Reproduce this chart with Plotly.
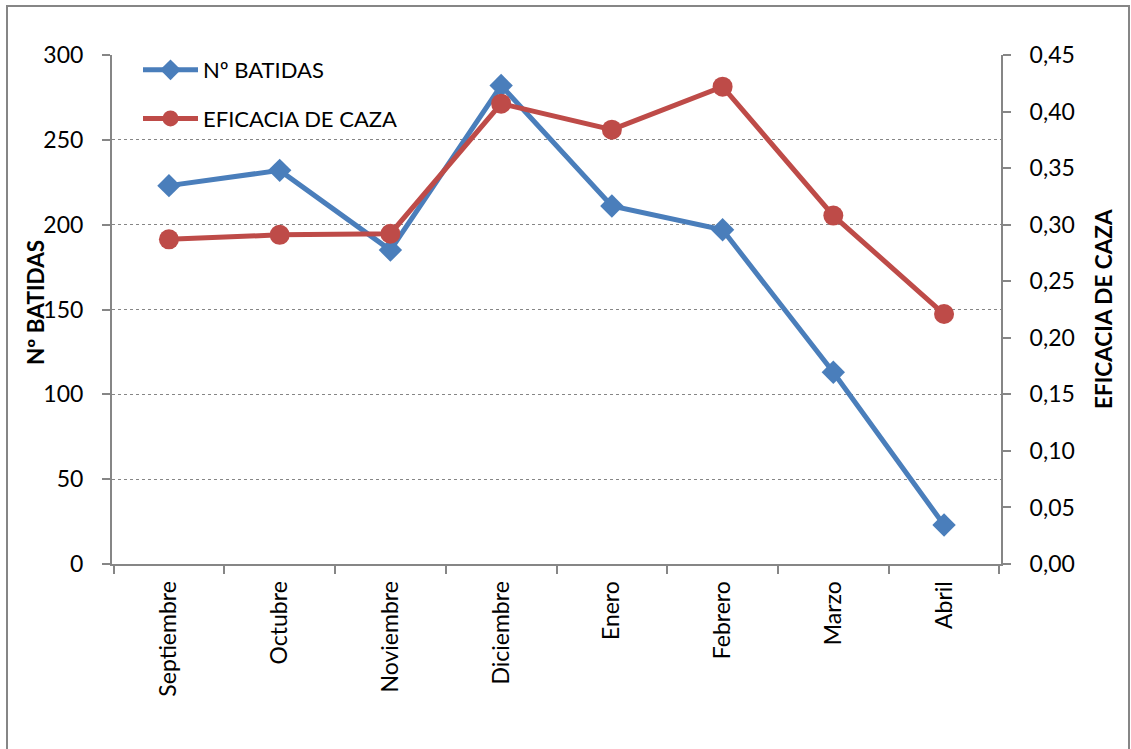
import plotly.graph_objects as go

# Monthly data for the hunting season
months = ["Septiembre", "Octubre", "Noviembre", "Diciembre",
          "Enero", "Febrero", "Marzo", "Abril"]
batidas = [223, 232, 185, 282, 211, 197, 113, 23]
eficacia = [0.287, 0.291, 0.292, 0.407, 0.384, 0.422, 0.308, 0.221]

left_ticks = [0, 50, 100, 150, 200, 250, 300]
right_ticks = [0, 0.05, 0.10, 0.15, 0.20, 0.25, 0.30, 0.35, 0.40, 0.45]

BLUE = "#4A7EBB"
RED = "#BE4B48"
AXIS = "#868686"
FONT = "Lato"

W, H = 1131, 749
ML, MR, MT, MB = 112, 130, 55, 185
PW, PH = W - ML - MR, H - MT - MB


def px_x(x):
    return (x - ML) / PW


def px_y(y):
    return (H - MB - y) / PH


fig = go.Figure()
fig.add_trace(go.Scatter(
    x=months, y=batidas, name="Nº BATIDAS", mode="lines+markers",
    line=dict(color=BLUE, width=5),
    marker=dict(symbol="diamond", size=18, color=BLUE),
    legendgroup="a", yaxis="y",
))
fig.add_trace(go.Scatter(
    x=months, y=eficacia, name="EFICACIA DE CAZA", mode="lines+markers",
    line=dict(color=RED, width=5),
    marker=dict(symbol="circle", size=20, color=RED),
    legendgroup="b", yaxis="y2",
))

fig.update_layout(
    width=W, height=H,
    margin=dict(l=ML, r=MR, t=MT, b=MB, pad=0),
    paper_bgcolor="white", plot_bgcolor="white",
    font=dict(family=FONT, size=23, color="black"),
    separators=",.",
    showlegend=True,
    legend=dict(
        x=px_x(138), y=px_y(49), xanchor="left", yanchor="top",
        bgcolor="rgba(0,0,0,0)", font=dict(size=22),
        traceorder="grouped", tracegroupgap=17, itemwidth=55,
    ),
    xaxis=dict(
        type="category", tickangle=-90, tickson="boundaries",
        ticks="outside", ticklen=8, tickwidth=2, tickcolor=AXIS,
        showline=True, linecolor=AXIS, linewidth=2,
        showgrid=False, zeroline=False,
        tickfont=dict(size=23), ticklabelstandoff=6,
    ),
    yaxis=dict(
        range=[0, 300], tickvals=left_ticks,
        ticks="outside", ticklen=8, tickwidth=2, tickcolor=AXIS,
        showline=True, linecolor=AXIS, linewidth=2,
        showgrid=True, gridcolor=AXIS, gridwidth=1, griddash="dot",
        zeroline=False, tickfont=dict(size=23), ticklabelstandoff=14,
    ),
    yaxis2=dict(
        range=[0, 0.45], tickvals=right_ticks, tickformat=".2f",
        overlaying="y", side="right",
        ticks="outside", ticklen=8, tickwidth=2, tickcolor=AXIS,
        showline=True, linecolor=AXIS, linewidth=2,
        showgrid=False, zeroline=False,
        tickfont=dict(size=23), ticklabelstandoff=14,
    ),
    annotations=[
        dict(text="<b>Nº BATIDAS</b>", textangle=-90, xref="paper", yref="paper",
             x=px_x(35), y=px_y(303), showarrow=False,
             xanchor="center", yanchor="middle", font=dict(size=22.5)),
        dict(text="<b>EFICACIA DE CAZA</b>", textangle=-90, xref="paper", yref="paper",
             x=px_x(1103), y=px_y(309), showarrow=False,
             xanchor="center", yanchor="middle", font=dict(size=22.5)),
    ],
    shapes=[
        dict(type="rect", xref="paper", yref="paper",
             x0=px_x(7), x1=px_x(1129), y0=px_y(765), y1=px_y(6),
             line=dict(color=AXIS, width=2), layer="below"),
    ],
)

fig.write_html("out.html")
